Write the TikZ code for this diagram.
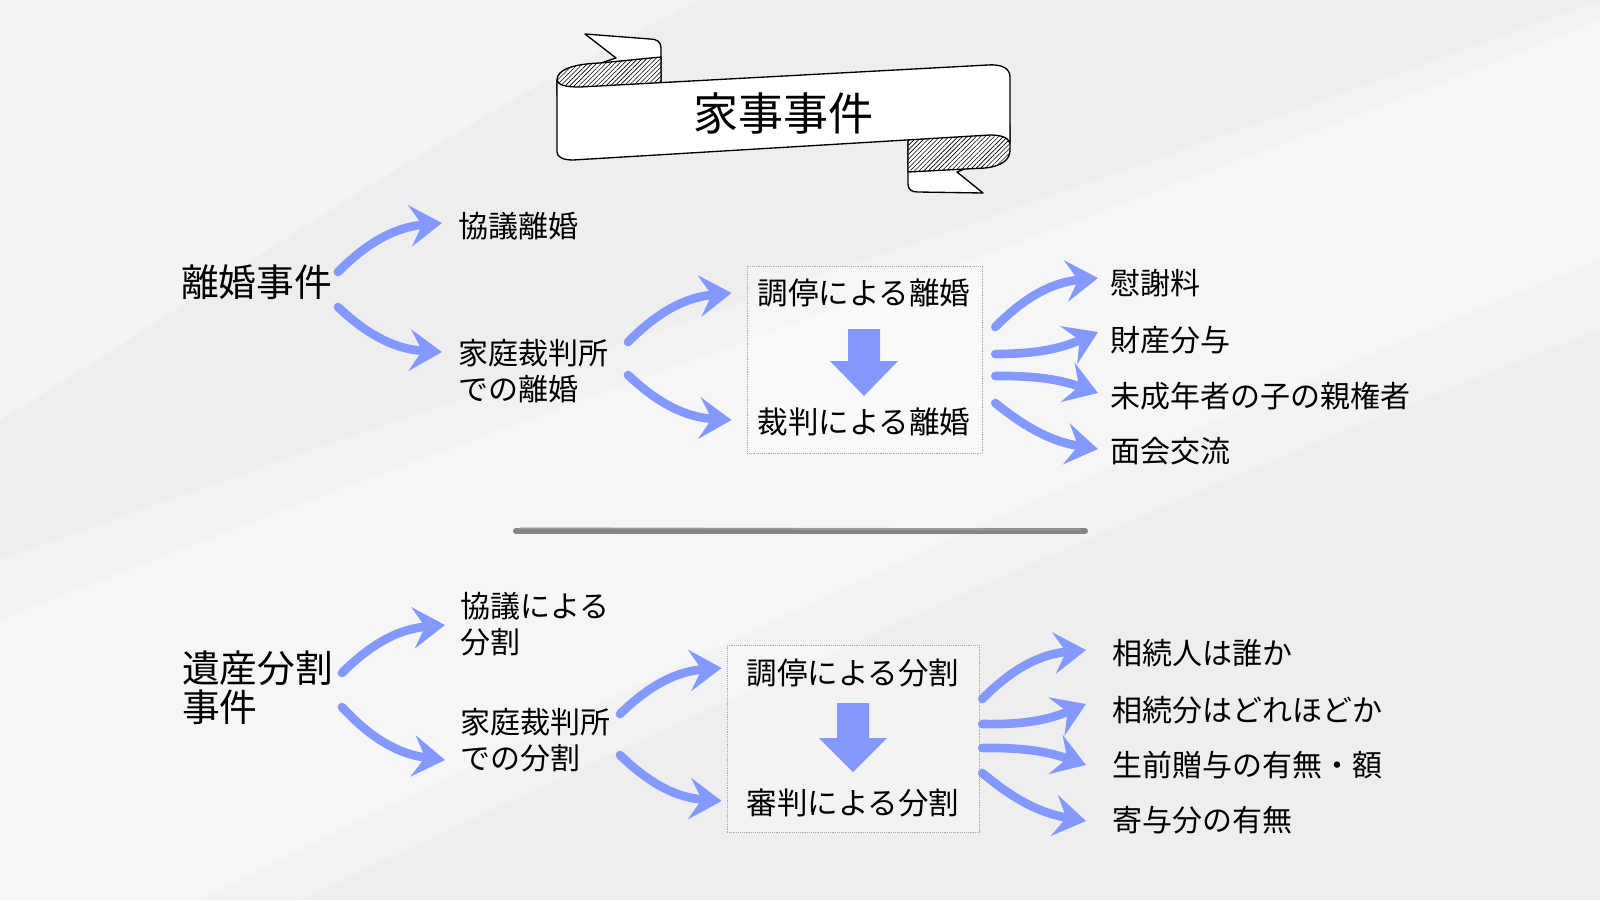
\documentclass[tikz,border=0pt]{standalone}
\usepackage{fontspec}
\setsansfont{Noto Sans CJK JP}
\usetikzlibrary{arrows.meta,patterns.meta,fit}
\definecolor{arrowblue}{HTML}{8499FF}
\definecolor{bggray}{HTML}{EEEEEE}
\definecolor{linegray}{HTML}{717171}

\begin{document}
\begin{tikzpicture}[x=0.75pt, y=-0.75pt, font=\sffamily, line join=round,
    txt/.style={inner sep=0pt, outer sep=0pt, anchor=west, align=left, font=\sffamily\fontsize{22.5}{27}\selectfont},
    bigtxt/.style={inner sep=0pt, outer sep=0pt, anchor=west, align=left, font=\sffamily\fontsize{28.3}{29.3}\selectfont},
    midtxt/.style={inner sep=0pt, outer sep=0pt, font=\sffamily\fontsize{22.9}{27}\selectfont},
    casebox/.style={draw=gray!70, densely dotted, fill=white, fill opacity=0.35, inner sep=0pt},
    brush/.style={draw=arrowblue, line width=6.5pt, line cap=round, -{Stealth[length=24pt, width=31pt, inset=9pt]}},
    ribbon/.style={draw=black, line width=1pt, fill=white},
    curl/.style={draw=black, line width=1pt, preaction={fill=white}, pattern={Lines[angle=45, distance=2.4pt, line width=0.45pt]}}]
    \useasboundingbox (0,0) rectangle (1600,900);
    \fill[bggray] (0,0) rectangle (1600,900);
    \fill[white, opacity=0.3] (0,620) .. controls (500,420) and (1000,260) .. (1600,20) -- (1600,260) .. controls (1100,460) and (600,700) .. (200,900) -- (0,900) -- cycle;
    \fill[white, opacity=0.25] (0,560) .. controls (500,380) and (1000,220) .. (1600,0) -- (1600,330) .. controls (1100,520) and (600,760) .. (300,900) -- (0,900) -- cycle;
    \fill[white, opacity=0.3] (0,0) -- (700,0) .. controls (400,150) and (200,300) .. (0,420) -- cycle;

    % banner
    \draw[ribbon] (661,87) -- (661,48) .. controls (661,42) and (657,39) .. (650,39) -- (585,34) -- (616,58) -- (598,64) -- (630,70) -- cycle;
    \draw[curl] (557,95) -- (557,80) .. controls (557,70) and (572,64) .. (600,63) -- (661,57) -- (661,95) -- cycle;
    \draw[ribbon] (908,140) -- (908,184) .. controls (908,190) and (912,192) .. (918,192) -- (983,193) -- (957,172) -- (1007,152) -- (990,140) -- cycle;
    \draw[curl] (908,125) -- (908,172) -- (985,168) .. controls (1003,166) and (1010,159) .. (1010,150) -- (1010,125) -- cycle;
    \draw[ribbon] (557,152) -- (557,80) .. controls (558,85) and (565,87) .. (580,87) -- (988,65) .. controls (1003,64) and (1010,69) .. (1010,77) -- (1010,143) .. controls (1008,137) and (1000,135) .. (990,135) -- (573,160) .. controls (563,160) and (557,157) .. (557,152) -- cycle;
    \node[inner sep=0pt, font=\sffamily\fontsize{33.75}{36}\selectfont] (title) at (783,113) {家事事件};

    % divorce cases
    \node[casebox, fit={(747,266) (982,453)}] (rikonbox) {};
    \fill[arrowblue] (848,329) -- (880,329) -- (880,361) -- (898,361) -- (864,396) -- (830,361) -- (848,361) -- cycle;
    \node[bigtxt] (rikon) at (181,282) {離婚事件};
    \node[txt] (kyogi) at (458,226) {協議離婚};
    \node[txt] (katei) at (458,371) {家庭裁判所\\での離婚};
    \node[midtxt] (choteiR) at (864,293) {調停による離婚};
    \node[midtxt] (saibanR) at (864,422) {裁判による離婚};
    \node[txt] (isharyo) at (1110,283) {慰謝料};
    \node[txt] (zaisan) at (1110,340) {財産分与};
    \node[txt] (shinken) at (1110,396) {未成年者の子の親権者};
    \node[txt] (menkai) at (1110,451) {面会交流};

    \draw[brush] ([shift={(6,-10)}]rikon.east) to[bend left=20] ([shift={(-16,-3)}]kyogi.west);
    \draw[brush] ([shift={(6,25)}]rikon.east) to[bend right=20] ([shift={(-16,-19)}]katei.west);
    \draw[brush] ([shift={(20,-29)}]katei.east) to[bend left=20] ([shift={(-26,0)}]choteiR.west);
    \draw[brush] ([shift={(20,4)}]katei.east) to[bend right=20] ([shift={(-26,-2)}]saibanR.west);
    \draw[brush] ([shift={(13,-32.5)}]rikonbox.east) to[bend left=20] ([shift={(-12,-5)}]isharyo.west);
    \draw[brush] ([shift={(13,-5.5)}]rikonbox.east) to[bend right=12] ([shift={(-12,-8)}]zaisan.west);
    \draw[brush] ([shift={(13,16.5)}]rikonbox.east) to[bend left=10] ([shift={(-12,-3)}]shinken.west);
    \draw[brush] ([shift={(13,43.5)}]rikonbox.east) to[bend right=15] ([shift={(-12,-2)}]menkai.west);

    % separator
    \draw[linegray, line width=4.5pt, line cap=round, opacity=0.85] (516,531) -- (1085,531);
    \draw[linegray!60, line width=1.5pt, line cap=round, opacity=0.6] (520,528) -- (1080,529.5);

    % inheritance cases
    \node[casebox, fit={(727,645) (979,832)}] (isanbox) {};
    \fill[arrowblue] (837,703) -- (869,703) -- (869,738) -- (887,738) -- (853,772) -- (819,738) -- (837,738) -- cycle;
    \node[bigtxt] (isan) at (182,688) {遺産分割\\事件};
    \node[txt] (kyogiB) at (460,624) {協議による\\分割};
    \node[txt] (kateiB) at (460,740) {家庭裁判所\\での分割};
    \node[midtxt] (choteiB) at (853,673) {調停による分割};
    \node[midtxt] (shinpanB) at (853,803) {審判による分割};
    \node[txt] (souzokunin) at (1112,653) {相続人は誰か};
    \node[txt] (souzokubun) at (1112,710) {相続分はどれほどか};
    \node[txt] (zoyo) at (1112,765) {生前贈与の有無・額};
    \node[txt] (kiyo) at (1112,820) {寄与分の有無};

    \draw[brush] ([shift={(9,-15)}]isan.east) to[bend left=20] ([shift={(-15,1)}]kyogiB.west);
    \draw[brush] ([shift={(9,19)}]isan.east) to[bend right=20] ([shift={(-15,20)}]kateiB.west);
    \draw[brush] ([shift={(10,-26)}]kateiB.east) to[bend left=20] ([shift={(-25,-5)}]choteiB.west);
    \draw[brush] ([shift={(10,15)}]kateiB.east) to[bend right=20] ([shift={(-25,-2)}]shinpanB.west);
    \draw[brush] ([shift={(3,-39.5)}]isanbox.east) to[bend left=20] ([shift={(-26,-3)}]souzokunin.west);
    \draw[brush] ([shift={(3,-14.5)}]isanbox.east) to[bend right=12] ([shift={(-26,-6)}]souzokubun.west);
    \draw[brush] ([shift={(3,9.5)}]isanbox.east) to[bend left=10] ([shift={(-26,0)}]zoyo.west);
    \draw[brush] ([shift={(3,34.5)}]isanbox.east) to[bend right=15] ([shift={(-26,1)}]kiyo.west);
\end{tikzpicture}
\end{document}
